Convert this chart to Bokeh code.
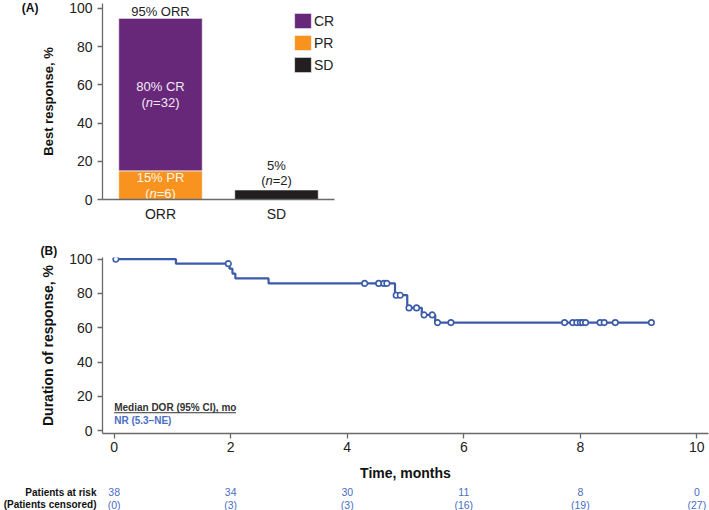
import numpy as np
from bokeh.plotting import figure
from bokeh.layouts import column
from bokeh.models import (FactorRange, Range1d, Legend, LegendItem, LinearAxis,
                          ColumnDataSource, FixedTicker, Title)
from bokeh.core.properties import value
from bokeh.embed import file_html
from bokeh.resources import INLINE

FONT = "Liberation Sans"

# ---------------- Panel A data ----------------
bar_cats = ["ORR", "SD"]
cr_pct = [80, 0]
pr_pct = [15, 0]
sd_pct = [0, 5]
cr_n = 32
pr_n = 6
sd_n = 2
orr_pct = 95
legend_labels = ["CR", "PR", "SD"]
a_ticks = [0, 20, 40, 60, 80, 100]

# ---------------- Panel B data ----------------
km_times = [0.0, 1.06, 1.98, 2.03, 2.08, 2.65, 4.82, 5.03, 5.28, 5.51, 9.22]
km_surv = [100.0, 97.4, 94.5, 91.6, 88.8, 85.9, 79.0, 71.6, 67.5, 63.0, 63.0]
censor_times = [0.03, 1.96, 4.30, 4.54, 4.63, 4.68, 4.84, 4.91, 5.06, 5.19, 5.32, 5.46,
                5.55, 5.78, 7.73, 7.87, 7.94, 8.00, 8.04, 8.09, 8.34, 8.41, 8.60, 9.22]
b_xticks = [0, 2, 4, 6, 8, 10]
b_yticks = [0, 20, 40, 60, 80, 100]
risk_times = [0, 2, 4, 6, 8, 10]
at_risk = [38, 34, 30, 11, 8, 0]
censored_n = [0, 3, 3, 16, 19, 27]
risk_rows = ["Patients at risk", "(Patients censored)"]
median_head = "Median DOR (95% CI), mo"
median_text = "NR (5.3\u2013NE)"

# ---------------- colours ----------------
PURPLE = "#68287A"
ORANGE = "#F7931E"
BLACK = "#231F20"
BLUE = "#3B5BAA"
RISK_BLUE = "#4A6EC2"
TXT = "#222222"
AXIS = "#6a6a6a"

LEFT = 101
RIGHT = 1


def style_axes(p, size="14px"):
    for ax in list(p.xaxis) + list(p.yaxis):
        ax.axis_line_color = AXIS
        ax.axis_line_width = 1.3
        ax.major_tick_line_color = AXIS
        ax.major_tick_line_width = 1.3
        ax.major_tick_out = 5
        ax.major_tick_in = 0
        ax.minor_tick_line_color = None
        ax.major_label_text_font = FONT
        ax.major_label_text_font_size = size
        ax.major_label_text_color = TXT
        ax.axis_label_text_font = FONT
        ax.axis_label_text_font_style = "bold"
        ax.axis_label_text_color = "#111111"
    p.xgrid.grid_line_color = None
    p.ygrid.grid_line_color = None
    p.outline_line_color = None
    p.background_fill_color = "white"
    p.border_fill_color = "white"


def panel_tag(p, text, tick):
    ax = LinearAxis(ticker=FixedTicker(ticks=[tick]),
                    major_label_overrides={tick: text})
    ax.axis_line_color = None
    ax.major_tick_line_color = None
    ax.minor_tick_line_color = None
    ax.major_tick_out = 0
    ax.major_tick_in = 0
    ax.major_label_standoff = 0
    ax.major_label_text_align = "left"
    ax.major_label_text_font = FONT
    ax.major_label_text_font_size = "12px"
    ax.major_label_text_font_style = "bold"
    ax.major_label_text_color = "#111111"
    p.add_layout(ax, "left")


# ================= Panel A =================
A_TOP, A_BOT, A_H = 3, 25, 224
A_YMAX = 102.6
pA = figure(x_range=FactorRange(*bar_cats, range_padding=0, factor_padding=0),
            y_range=Range1d(0, A_YMAX), width=LEFT + 233 + RIGHT, height=A_H,
            min_border_left=LEFT, min_border_right=RIGHT,
            min_border_top=A_TOP, min_border_bottom=A_BOT,
            output_backend="svg", toolbar_location=None)
pA.yaxis.ticker = FixedTicker(ticks=a_ticks)
pA.yaxis.axis_label = "Best response, %"
style_axes(pA)
pA.yaxis.axis_label_text_font_size = "13px"
pA.yaxis.axis_label_standoff = 10
pA.yaxis.major_label_standoff = 5
pA.xaxis.major_tick_line_color = None
pA.xaxis.major_tick_out = 0
pA.xaxis.major_label_standoff = 6
panel_tag(pA, "(A)", 100)

srcA = ColumnDataSource(dict(cat=bar_cats, pr=pr_pct, cr=cr_pct, sd=sd_pct))
rs = pA.vbar_stack(["pr", "cr", "sd"], x="cat", width=0.72, source=srcA,
                   color=[ORANGE, PURPLE, BLACK], line_color="white", line_width=0.6)
r_pr, r_cr, r_sd = rs
FRAME_A_H = A_H - A_TOP - A_BOT
legend = Legend(items=[LegendItem(label=legend_labels[0], renderers=[r_cr]),
                       LegendItem(label=legend_labels[1], renderers=[r_pr]),
                       LegendItem(label=legend_labels[2], renderers=[r_sd])],
                location=(190, FRAME_A_H - 71), glyph_width=21, glyph_height=19,
                label_height=19, spacing=3, padding=0, margin=0,
                label_standoff=1, border_line_color=None,
                background_fill_alpha=0, label_text_font=FONT,
                label_text_font_size="14px", label_text_color=TXT)
pA.add_layout(legend)

ppuA = FRAME_A_H / A_YMAX
CW = {"(": .333, ")": .333, "n": .556, "=": .584, "0": .556, "1": .556, "2": .556,
      "3": .556, "4": .556, "5": .556, "6": .556, "7": .556, "8": .556, "9": .556}


def n_label(p, cat, y, n, color, px):
    pieces = ["(", "n", f"={n})"]
    styles = ["normal", "italic", "normal"]
    widths = [sum(CW[c] for c in s) * px for s in pieces]
    start = -sum(widths) / 2
    offs = [start + sum(widths[:i]) for i in range(3)]
    p.text(x=[cat] * 3, y=[y] * 3, text=pieces, x_offset=offs,
           text_font_style=styles, text_align="left", text_baseline="middle",
           text_font=value(FONT), text_font_size=f"{px}px", text_color=color)


def plain(p, cat, y, txt, color, px):
    p.text(x=[cat], y=[y], text=[txt], text_align="center", text_baseline="middle",
           text_font=value(FONT), text_font_size=f"{px}px", text_color=color)


gap = 8 / ppuA
cr_mid = pr_pct[0] + cr_pct[0] / 2
pr_mid = pr_pct[0] / 2
plain(pA, "ORR", cr_mid + gap, f"{cr_pct[0]}% CR", "#f2eaf4", 13)
n_label(pA, "ORR", cr_mid - gap, cr_n, "#f2eaf4", 13)
plain(pA, "ORR", pr_mid + gap, f"{pr_pct[0]}% PR", "#fff6ec", 13)
n_label(pA, "ORR", pr_mid - gap, pr_n, "#fff6ec", 13)
plain(pA, "ORR", orr_pct + 7 / ppuA, f"{orr_pct}% ORR", TXT, 13)
plain(pA, "SD", sd_pct[1] + 24 / ppuA, f"{sd_pct[1]}%", TXT, 13)
n_label(pA, "SD", sd_pct[1] + 9.5 / ppuA, sd_n, TXT, 13)

# ================= Panel B =================
B_TOP, B_BOT, B_H = 33, 48, 259
B_W = 709
xs, xe = -0.2, 10.2
ys, ye = -1.7, 101
pB = figure(x_range=Range1d(xs, xe), y_range=Range1d(ys, ye), width=B_W, height=B_H,
            min_border_left=LEFT, min_border_right=RIGHT,
            min_border_top=B_TOP, min_border_bottom=B_BOT,
            output_backend="svg", toolbar_location=None)
pB.xaxis.ticker = FixedTicker(ticks=b_xticks)
pB.yaxis.ticker = FixedTicker(ticks=b_yticks)
pB.yaxis.axis_label = "Duration of response, %"
pB.xaxis.axis_label = "Time, months"
style_axes(pB)
pB.yaxis.axis_label_text_font_size = "14px"
pB.yaxis.axis_label_standoff = 10
pB.yaxis.major_label_standoff = 5
pB.xaxis.axis_label_text_font_size = "14px"
pB.xaxis.axis_label_standoff = 10
pB.xaxis.major_label_standoff = 3
pB.title = Title(text="(B)", align="left", offset=-62, vertical_align="bottom",
                 standoff=0, text_font=FONT, text_font_size="12px",
                 text_font_style="bold", text_color="#111111")

ppuBy = (B_H - B_TOP - B_BOT) / (ye - ys)
ppuBx = (B_W - LEFT - RIGHT) / (xe - xs)

pB.step(x=km_times, y=km_surv, mode="after", line_color=BLUE, line_width=2.2)
kt = np.array(km_times)
ks = np.array(km_surv)
cidx = np.searchsorted(kt, np.array(censor_times), side="right") - 1
cy = ks[cidx]
pB.scatter(x=censor_times, y=cy, marker="circle", size=5.5, fill_color="white",
           line_color=BLUE, line_width=1.6)

y_head = 13.3
y_nr = 6.0
pB.text(x=[0], y=[y_head], text=[median_head], text_align="left", text_baseline="middle",
        text_font=value(FONT), text_font_size="10px", text_font_style="bold",
        text_color="#333333")
under_px = 122
uy = y_head - 5 / ppuBy
pB.segment(x0=[0], y0=[uy], x1=[under_px / ppuBx], y1=[uy],
           line_color="#333333", line_width=1)
pB.text(x=[0], y=[y_nr], text=[median_text], text_align="left", text_baseline="middle",
        text_font=value(FONT), text_font_size="10px", text_font_style="bold",
        text_color=RISK_BLUE)

# ================= Risk table =================
R_H = 510 - A_H - B_H
pR = figure(x_range=pB.x_range, y_range=Range1d(0.55, 2.69), width=B_W, height=R_H,
            min_border_left=LEFT, min_border_right=RIGHT,
            min_border_top=0, min_border_bottom=0, x_axis_location=None,
            output_backend="svg", toolbar_location=None)
pR.yaxis.ticker = FixedTicker(ticks=[1, 2])
pR.yaxis.major_label_overrides = {2: risk_rows[0], 1: risk_rows[1]}
pR.yaxis.axis_line_color = None
pR.yaxis.major_tick_line_color = None
pR.yaxis.minor_tick_line_color = None
pR.yaxis.major_tick_out = 0
pR.yaxis.major_label_standoff = 6
pR.yaxis.major_label_text_font = FONT
pR.yaxis.major_label_text_font_size = "10px"
pR.yaxis.major_label_text_font_style = "bold"
pR.yaxis.major_label_text_color = "#111111"
pR.xgrid.grid_line_color = None
pR.ygrid.grid_line_color = None
pR.outline_line_color = None

srcR = ColumnDataSource(dict(t=risk_times,
                             r=[str(v) for v in at_risk],
                             c=[f"({v})" for v in censored_n],
                             y1=[2] * len(risk_times),
                             y2=[1] * len(risk_times)))
for fld, yf in (("r", "y1"), ("c", "y2")):
    pR.text(x="t", y=yf, text=fld, source=srcR, text_align="center",
            text_baseline="middle", text_font=value(FONT),
            text_font_size="10.5px", text_color=RISK_BLUE)

layout = column(pA, pB, pR, spacing=0)
open("out.html", "w").write(file_html(layout, INLINE))
